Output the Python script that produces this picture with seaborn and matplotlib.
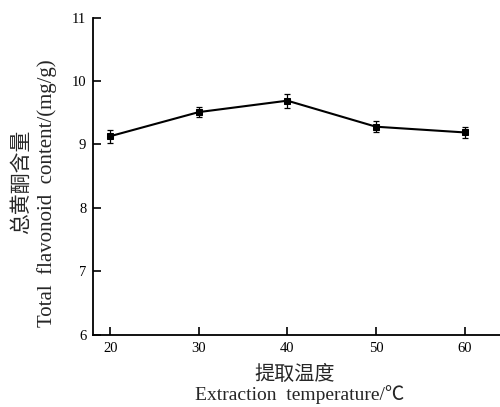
import matplotlib
matplotlib.use("Agg")
import matplotlib.pyplot as plt
import seaborn as sns
import pandas as pd

temperature = [20, 30, 40, 50, 60]
flavonoid = [9.13, 9.51, 9.69, 9.28, 9.19]
error = [0.10, 0.08, 0.11, 0.09, 0.08]
xticks = [20, 30, 40, 50, 60]
yticks = [6, 7, 8, 9, 10, 11]

sns.set_theme(style="ticks")
plt.rcParams['font.family'] = ['Liberation Serif', 'Noto Sans CJK SC', 'DejaVu Sans']

df = pd.DataFrame({"t": temperature, "v": flavonoid, "e": error})

fig = plt.figure(figsize=(5.0, 4.07), dpi=100)
ax = fig.add_axes([0.1866, 0.177, 0.8134, 0.780])

sns.lineplot(data=df, x="t", y="v", ax=ax, color="black", linewidth=1.5,
             marker="s", markersize=4, markeredgecolor="black")
ax.errorbar(df["t"], df["v"], yerr=df["e"], fmt="none", ecolor="black",
            elinewidth=0.9, capsize=2.5, capthick=0.9)

ax.set_xlim(18.1, 64)
ax.set_ylim(6, 11)
ax.set_xticks(xticks)
ax.set_yticks(yticks)
ax.set_xlabel("")
ax.set_ylabel("")
ax.tick_params(direction="in", length=6, width=1.2, labelsize=10.5, colors="black")
ax.tick_params(axis="x", pad=5)
ax.tick_params(axis="y", pad=5)
for s in ["top", "right"]:
    ax.spines[s].set_visible(False)
for s in ["left", "bottom"]:
    ax.spines[s].set_linewidth(1.3)
    ax.spines[s].set_color("black")

fig.text(0.59, 0.079, "提取温度", ha="center", va="center", fontsize=14.5,
         family=["Noto Sans CJK SC", "DejaVu Sans"], fontweight="light")
fig.text(0.60, 0.030, "Extraction  temperature/℃", ha="center", va="center", fontsize=14,
         family=["Liberation Serif", "Noto Sans CJK SC", "DejaVu Sans"])
fig.text(0.042, 0.553, "总黄酮含量", ha="center", va="center", fontsize=15, rotation=90,
         family=["Noto Sans CJK SC", "DejaVu Sans"], fontweight="light")
fig.text(0.094, 0.526, "Total  flavonoid  content/(mg/g)", ha="center", va="center",
         fontsize=15, rotation=90, family=["Liberation Serif", "DejaVu Sans"])

fig.savefig("out.png", dpi=100)
